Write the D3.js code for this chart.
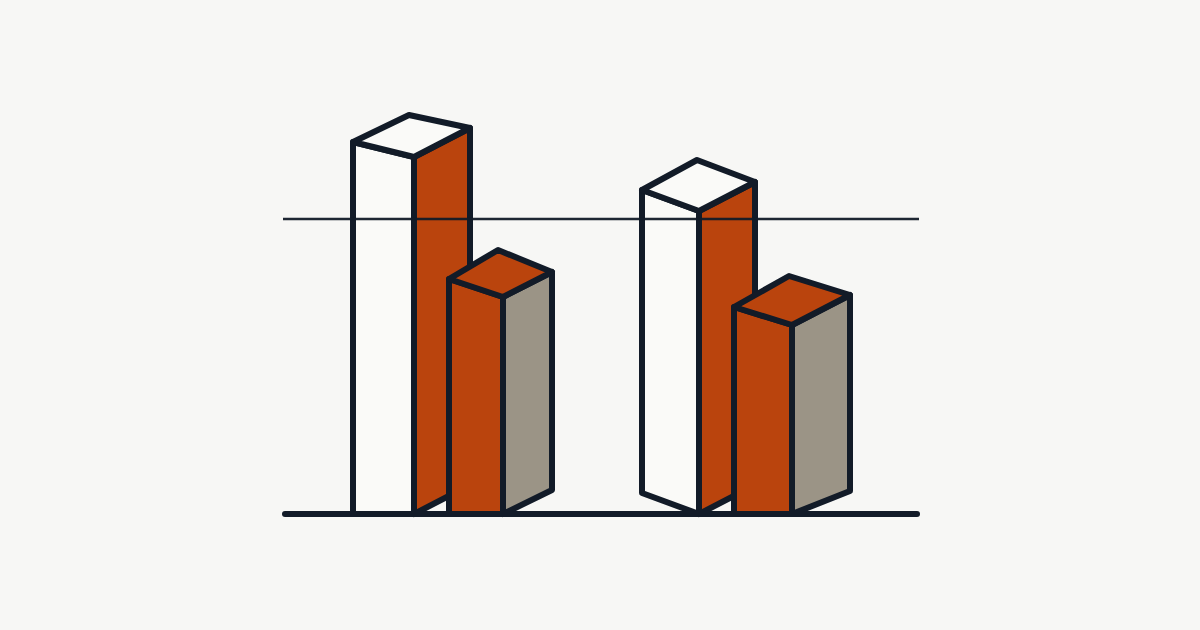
<!DOCTYPE html>
<html>
<head>
<meta charset="utf-8">
<script src="https://cdnjs.cloudflare.com/ajax/libs/d3/7.9.0/d3.min.js"></script>
<style>
html,body{margin:0;padding:0;background:#f7f7f5;}
svg{display:block;}
</style>
</head>
<body>
<svg id="chart" width="1200" height="630"></svg>
<script>
// Data
const categories = ["A", "B"];
const series = ["tall", "short"];
const tallValues = [89.25, 75.75];
const shortValues = [54.25, 47.25];
const referenceValue = 73.75;

// Layout (pixels, not data)
const W = 1200, H = 630;
const plot = { left: 283, right: 919, baseline: 514, top: 114 };
const shortOffset = { A: 89, B: 93 };
// Footprint of each box, relative to its front corner
const footprints = {
  "A-tall":  { l: [-61, 15], r: [56, 29], b: [-5, 42], floatLeft: false, rightRise: 29 },
  "A-short": { l: [-54, 18], r: [49, 25], b: [-5, 47], floatLeft: false, rightRise: 24 },
  "B-tall":  { l: [-57, 21], r: [56, 29], b: [-2, 51], floatLeft: true,  rightRise: 29 },
  "B-short": { l: [-58, 18], r: [58, 30], b: [-3, 49], floatLeft: false, rightRise: 23 }
};
const colors = {
  bg: "#f7f7f5", white: "#fafaf8", rust: "#ba440d", taupe: "#9b9486", ink: "#121b28"
};
const faceFill = {
  tall:  { left: colors.white, right: colors.rust, top: colors.white },
  short: { left: colors.rust,  right: colors.taupe, top: colors.rust }
};

// Scales
const y = d3.scaleLinear().domain([0, 100]).range([plot.baseline, plot.top]);
const x = d3.scalePoint().domain(categories).range([414, 699]);
const line = d3.line();

const boxes = series.flatMap(s => categories.map((c, i) => ({
  cat: c,
  s,
  value: (s === "tall" ? tallValues : shortValues)[i],
  fx: x(c) + (s === "short" ? shortOffset[c] : 0),
  fp: footprints[c + "-" + s]
})));

function faces(d) {
  const top = y(d.value), base = y(0), { l, r, b, rightRise } = d.fp, fx = d.fx;
  const L = [fx + l[0], top - l[1]];
  const R = [fx + r[0], top - r[1]];
  const B = [fx + b[0], top - b[1]];
  const F = [fx, top];
  const F0 = [fx, base];
  const L0 = [fx + l[0], d.fp.floatLeft ? base - l[1] : base];
  const R0 = [fx + r[0], base - rightRise];
  return [
    { name: "left",  pts: [L, F, F0, L0] },
    { name: "right", pts: [F, R, R0, F0] },
    { name: "top",   pts: [L, B, R, F] }
  ];
}

// Drawing
const svg = d3.select("#chart").attr("viewBox", [0, 0, W, H]);
svg.append("rect").attr("width", W).attr("height", H).attr("fill", colors.bg);

function drawBoxes(list, cls) {
  const g = svg.append("g").attr("class", cls)
    .selectAll("g").data(list).join("g");
  g.selectAll("path").data(d => faces(d).map(f => ({ ...f, s: d.s }))).join("path")
    .attr("d", f => line(f.pts) + "Z")
    .attr("fill", f => faceFill[f.s][f.name])
    .attr("stroke", colors.ink)
    .attr("stroke-width", 6)
    .attr("stroke-linejoin", "round");
}

drawBoxes(boxes.filter(d => d.s === "tall"), "tall");

svg.append("line").attr("class", "reference")
  .attr("x1", plot.left).attr("x2", plot.right)
  .attr("y1", y(referenceValue)).attr("y2", y(referenceValue))
  .attr("stroke", colors.ink).attr("stroke-width", 2.6).attr("stroke-opacity", 0.95);

drawBoxes(boxes.filter(d => d.s === "short"), "short");

svg.append("line").attr("class", "baseline")
  .attr("x1", plot.left + 2).attr("x2", plot.right - 2)
  .attr("y1", y(0)).attr("y2", y(0))
  .attr("stroke", colors.ink).attr("stroke-width", 6).attr("stroke-linecap", "round");
</script>
</body>
</html>
